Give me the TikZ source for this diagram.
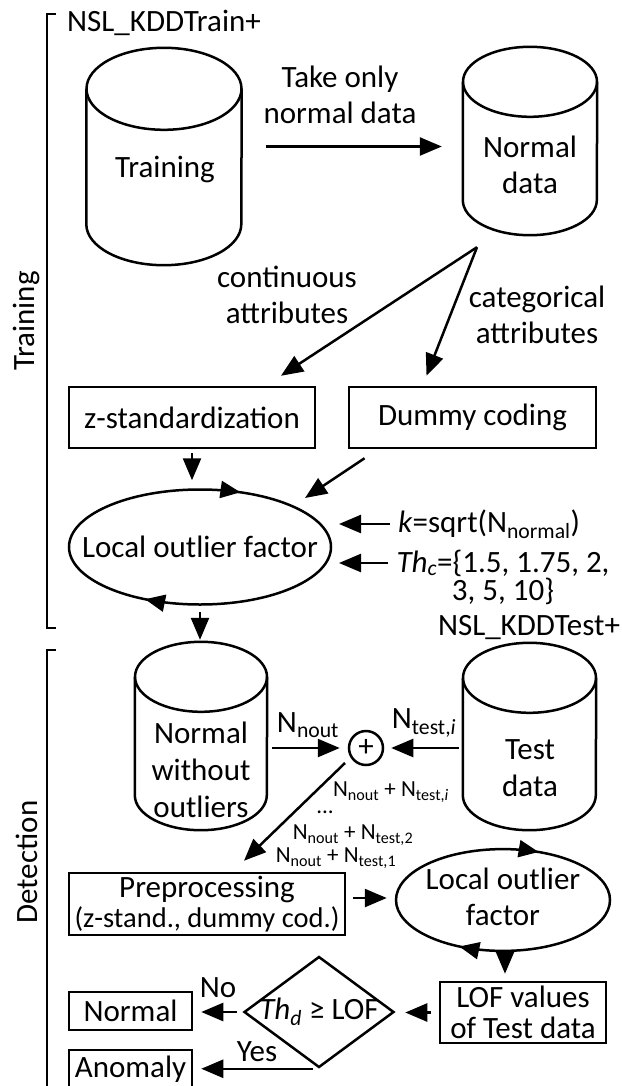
\documentclass[tikz,border=0pt]{standalone}
\usepackage{fontspec}
\setmainfont{Carlito}
\usetikzlibrary{shapes.geometric,arrows.meta,decorations.markings}
% cylinder outline round an empty node: node, x radius, y radius
\newcommand{\dbshape}[3]{%
  \draw[dbline] ([yshift=-#3]#1.north) ellipse [x radius=#2, y radius=#3];
  \draw[dbline] ([yshift=-#3]#1.north west) -- ([yshift=#3]#1.south west)
    arc[start angle=180, end angle=360, x radius=#2, y radius=#3] -- ([yshift=-#3]#1.north east);
}
\begin{document}
\begin{tikzpicture}[x=1pt,y=-1pt,
    font=\fontsize{31}{36}\selectfont,
    every node/.style={inner sep=0pt},
    dbline/.style={line width=2.5pt},
    box/.style={draw, line width=2.5pt, align=center},
    lofnode/.style 2 args={ellipse, draw, line width=2.5pt,
      decoration={markings,
        mark=at position #1 with {\arrowreversed{Triangle[length=20pt,width=17pt]}},
        mark=at position #2 with {\arrowreversed{Triangle[length=20pt,width=17pt]}}},
      postaction={decorate}},
    arr/.style={-{Triangle[length=22pt,width=18pt]}, line width=2.5pt},
    sublbl/.style={font=\fontsize{23}{27}\selectfont}]
  \useasboundingbox (0,0) rectangle (621,1086);

  % training part
  \draw[line width=2.5pt] (56,14) -- (47,14) -- (47,628) -- (56,628);
  \node[rotate=90] (trlbl) at (27,321) {Training};
  \node[anchor=west] (trainset) at (67,23) {NSL\_KDDTrain+};

  \node[minimum width=155, minimum height=217] (train) at (164,156.5) {};
  \dbshape{train}{77.5pt}{41pt}
  \node (traintxt) at (165,170) {Training};
  \node[minimum width=134, minimum height=188] (normal) at (530,141) {};
  \dbshape{normal}{67pt}{35pt}
  \node[align=center] (normaltxt) at (530,164.5) {Normal\\data};
  \node[align=center] (takelbl) at (340,95) {Take only\\normal data};
  \draw[arr, shorten <=24pt, shorten >=21pt] ([yshift=10pt]train.east) -- ([yshift=10pt]train.east -| normal.west);

  \coordinate (split) at ([shift={(-53,12)}]normal.south);
  \node[align=center] (contlbl) at (287,295) {continuous\\attributes};
  \node[align=center] (catlbl) at (537,315) {categorical\\attributes};

  \node[box, minimum width=246, minimum height=61] (zstd) at (192,417.5) {z-standardization};
  \node[box, minimum width=247, minimum height=61] (dummy) at (472.5,417.5) {Dummy coding};
  \draw[arr] (split) -- ([shift={(89,-10)}]zstd.north);
  \draw[arr] (split) -- ([shift={(-46,-10)}]dummy.north);

  \node[lofnode={0.184}{0.66}, minimum width=262, minimum height=115] (lof) at (200,547)
    {\makebox[0pt]{Local outlier factor}};
  \draw[arr, shorten <=4pt, shorten >=8pt] (zstd.south) -- (zstd.south |- lof.north);
  \draw[arr] ([shift={(-108,9)}]dummy.south) -- ([shift={(105,-49)}]lof.center);

  \node[anchor=west] (kpar) at (398,524) {\textit{k}=sqrt(N\textsubscript{normal})};
  \node[align=center, font=\fontsize{31}{28}\selectfont] (thc) at (503,577)
    {\textit{Th}\textsubscript{\textit{c}}=\{1.5, 1.75, 2,\\3, 5, 10\}};
  \draw[arr] ([xshift=-8pt]kpar.west) -- ([shift={(139,-23)}]lof.center);
  \draw[arr] ([shift={(-8,-14)}]thc.west) -- ([shift={(139,16)}]lof.center);

  % detection part
  \draw[line width=2.5pt] (56,650) -- (47,650) -- (47,1090);
  \node[rotate=90] (detlbl) at (27,862) {Detection};
  \node (testset) at (529,628) {NSL\_KDDTest+};

  \node[minimum width=132, minimum height=188] (nout) at (201,736) {};
  \dbshape{nout}{66pt}{35pt}
  \node[align=center, font=\fontsize{31}{37}\selectfont] (nouttxt) at (201,769.5) {Normal\\without\\outliers};
  \node[minimum width=133, minimum height=187] (test) at (529.5,736.5) {};
  \dbshape{test}{66.5pt}{35pt}
  \node[align=center, font=\fontsize{31}{37}\selectfont] (testtxt) at (530,768.5) {Test\\data};
  \draw[arr, shorten <=6pt, shorten >=2pt] (lof.south) -- (lof.south |- nout.north);

  \node[draw, circle, line width=2.5pt, minimum size=34] (plus) at (366,748) {+};
  \draw[arr, shorten <=5pt, shorten >=8pt] (nout.east |- plus.west) -- (plus.west);
  \draw[arr, shorten <=4pt, shorten >=7pt] (test.west |- plus.east) -- (plus.east);
  \node (noutlbl) at (308,725) {N\textsubscript{nout}};
  \node (testlbl) at (424,723) {N\textsubscript{test,\textit{i}}};

  \node[box, minimum width=276, minimum height=62, font=\fontsize{31}{30}\selectfont] (prep) at (207,904)
    {Preprocessing\\{\fontsize{28.5}{30}\selectfont (z-stand., dummy cod.)}};
  \draw[arr] ([shift={(-21,15)}]plus.center) -- ([shift={(37,-11)}]prep.north);
  \node[sublbl] (sumi) at (391,792) {N\textsubscript{nout} + N\textsubscript{test,\textit{i}}};
  \node[sublbl] (sumdots) at (325,812) {...};
  \node[sublbl] (sumb) at (353,835) {N\textsubscript{nout} + N\textsubscript{test,2}};
  \node[sublbl] (suma) at (336,858) {N\textsubscript{nout} + N\textsubscript{test,1}};

  \node[lofnode={0.18}{0.664}, minimum width=214, minimum height=96] (lofb) at (503,900)
    {\makebox[0pt]{\begin{tabular}{@{}c@{}}Local outlier\\factor\end{tabular}}};
  \draw[arr, shorten <=7pt, shorten >=8pt] ([yshift=6pt]prep.east) -- ([yshift=6pt]prep.east -| lofb.west);

  \node[box, minimum width=166, minimum height=61, font=\fontsize{31}{31}\selectfont] (lofval) at (523,1012.5)
    {LOF values\\of Test data};
  \draw[arr, shorten <=4pt, shorten >=7pt] ([xshift=2pt]lofb.south) -- ([xshift=2pt]lofb.south |- lofval.north);

  \node[diamond, draw, line width=2.5pt, aspect=1.35, minimum width=150, minimum height=111] (decide) at (319,1012)
    {\makebox[0pt]{\textit{Th}\textsubscript{\textit{d}} ≥ LOF}};
  \draw[arr, shorten <=8pt, shorten >=10pt] (lofval.west) -- (lofval.west -| decide.east);

  \node[box, minimum width=123, minimum height=38] (normbox) at (130.5,1011) {Normal};
  \node[box, minimum width=123, minimum height=38] (anom) at (130.5,1069) {Anomaly};
  \draw[arr, shorten <=6pt, shorten >=8pt] (decide.west) -- (decide.west -| normbox.east);
  \draw[arr, shorten <=6pt, shorten >=8pt] (decide.south) -- (decide.south -| anom.east);
  \node (nolbl) at (218,988) {No};
  \node (yeslbl) at (257,1052) {Yes};
\end{tikzpicture}
\end{document}
